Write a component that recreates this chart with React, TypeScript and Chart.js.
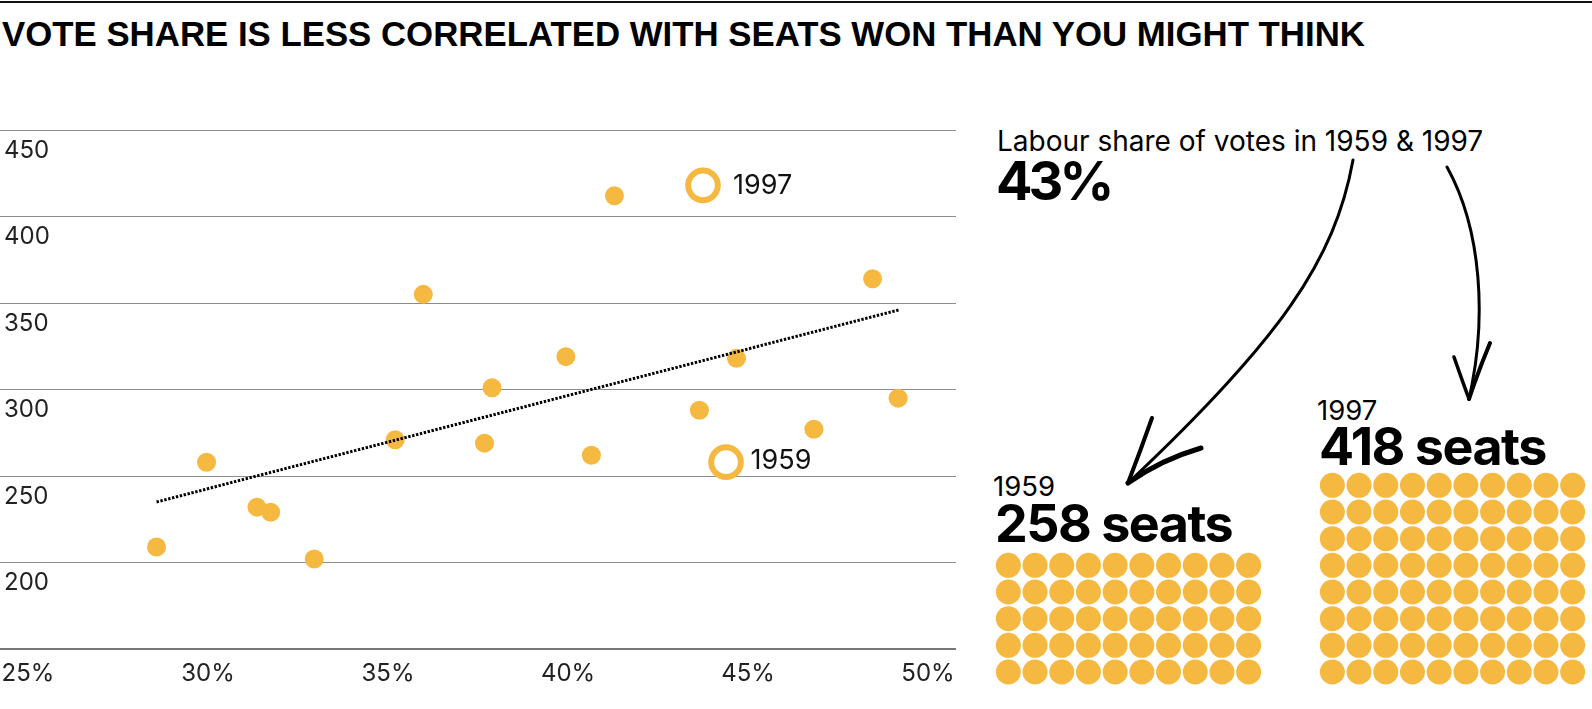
import React, { useEffect, useRef } from "react";
import { Chart, registerables } from "chart.js";
Chart.register(...registerables);

// ---- Data ----
const voteShare = [28.57, 29.96, 31.36, 31.74, 32.95, 35.2, 35.98, 37.68, 37.89, 39.94, 40.65, 41.29, 43.65, 44.68, 46.83, 48.46, 49.17];
const seatsWon = [209, 258, 232, 229, 202, 271, 355, 269, 301, 319, 262, 412, 288, 318, 277, 364, 295];
const highlightYears = ["1997", "1959"];
const highlightShare = [43.75, 44.39];
const highlightSeats = [418, 258];
const trendShare = [28.57, 49.19];
const trendSeats = [235, 346];
const xTicks = [25, 30, 35, 40, 45, 50];
const yTicks = [150, 200, 250, 300, 350, 400, 450];
const waffleYears = ["1959", "1997"];
const waffleSeats = [258, 418];
const seatsPerDot = 5;
const dotsPerRow = 10;
const headlineLabel = "Labour share of votes in 1959 & 1997";
const headlineShare = "43%";
const title = "VOTE SHARE IS LESS CORRELATED WITH SEATS WON THAN YOU MIGHT THINK";

const GOLD = "#F5B942";
const FONT = "Inter, 'Noto Sans', sans-serif";
const TITLE_FONT = "'Liberation Sans', Arial, sans-serif";

// annotation label offsets (style, px)
const ANNOT_DX = [30, 24.5];
const ANNOT_DY = [0.9, -1.5];

function ScatterChart() {
  const ref = useRef<HTMLCanvasElement>(null);
  useEffect(() => {
    if (!ref.current) return;
    const labelPlugin = {
      id: "customLabels",
      afterDraw(chart: any) {
        const { ctx } = chart;
        const x = chart.scales.x;
        const y = chart.scales.y;
        ctx.save();
        ctx.font = `24px ${FONT}`;
        ctx.fillStyle = "#222";
        ctx.textBaseline = "middle";
        ctx.textAlign = "left";
        y.ticks.forEach((t: any) => {
          if (t.value === yTicks[0]) return;
          ctx.fillText(String(t.value), 4, y.getPixelForValue(t.value) + 20.5);
        });
        ctx.textAlign = "center";
        x.ticks.forEach((t: any) => {
          ctx.fillText(t.value + "%", x.getPixelForValue(t.value), y.bottom + 25);
        });
        ctx.font = `27px ${FONT}`;
        ctx.fillStyle = "#111";
        ctx.textAlign = "left";
        highlightYears.forEach((yr, i) => {
          ctx.fillText(yr, x.getPixelForValue(highlightShare[i]) + ANNOT_DX[i], y.getPixelForValue(highlightSeats[i]) + ANNOT_DY[i]);
        });
        ctx.restore();
      },
    };
    const chart = new Chart(ref.current, {
      type: "scatter",
      data: {
        datasets: [
          {
            type: "line",
            data: trendShare.map((v, i) => ({ x: v, y: trendSeats[i] })),
            borderColor: "#000",
            borderWidth: 3,
            borderDash: [2.4, 1.6],
            pointRadius: 0,
            fill: false,
            tension: 0,
          } as any,
          {
            data: highlightShare.map((v, i) => ({ x: v, y: highlightSeats[i] })),
            pointRadius: 14.8,
            borderWidth: 6,
            borderColor: GOLD,
            backgroundColor: "#fff",
          },
          {
            data: voteShare.map((v, i) => ({ x: v, y: seatsWon[i] })),
            pointRadius: 9.5,
            borderWidth: 0,
            backgroundColor: GOLD,
          },
        ],
      },
      options: {
        animation: false,
        responsive: false,
        maintainAspectRatio: false,
        events: [],
        layout: { autoPadding: false, padding: { top: 130, bottom: 60, left: 0, right: 4 } },
        plugins: { legend: { display: false }, tooltip: { enabled: false } },
        scales: {
          x: {
            type: "linear",
            min: 24.2222,
            max: 50.7778,
            afterBuildTicks: (s: any) => {
              s.ticks = xTicks.map((v) => ({ value: v }));
            },
            afterFit: (s: any) => {
              s.height = 0;
            },
            ticks: { display: false },
            grid: { display: false },
            border: { display: false },
          },
          y: {
            type: "linear",
            min: yTicks[0],
            max: yTicks[yTicks.length - 1],
            afterBuildTicks: (s: any) => {
              s.ticks = yTicks.map((v) => ({ value: v }));
            },
            afterFit: (s: any) => {
              s.width = 0;
            },
            ticks: { display: false },
            grid: {
              drawTicks: false,
              color: (c: any) => (c.tick && c.tick.value === yTicks[0] ? "#777" : "#8c8c8c"),
              lineWidth: (c: any) => (c.tick && c.tick.value === yTicks[0] ? 2 : 1),
            },
            border: { display: false },
          },
        },
      } as any,
      plugins: [labelPlugin],
    });
    return () => chart.destroy();
  }, []);
  return <canvas ref={ref} width={960} height={709} style={{ position: "absolute", left: 0, top: 0 }} />;
}

const CELL = 26.7;

function Waffle({ seats, left, top, clipBottom }: { seats: number; left: number; top: number; clipBottom: number }) {
  const ref = useRef<HTMLCanvasElement>(null);
  const dots = Math.round(seats / seatsPerDot);
  const rows = Math.ceil(dots / dotsPerRow);
  useEffect(() => {
    if (!ref.current) return;
    const pts = Array.from({ length: dots }, (_, i) => ({ x: i % dotsPerRow, y: Math.floor(i / dotsPerRow) }));
    const chart = new Chart(ref.current, {
      type: "scatter",
      data: {
        datasets: [{ data: pts, pointRadius: 12.5, borderWidth: 0, backgroundColor: GOLD }],
      },
      options: {
        animation: false,
        responsive: false,
        maintainAspectRatio: false,
        events: [],
        layout: { autoPadding: false, padding: 0 },
        plugins: { legend: { display: false }, tooltip: { enabled: false } },
        scales: {
          x: { type: "linear", display: false, min: -0.5, max: dotsPerRow - 0.5 },
          y: { type: "linear", display: false, min: -0.5, max: rows - 0.5, reverse: true },
        },
      } as any,
    });
    return () => chart.destroy();
  }, [seats]);
  return (
    <div style={{ position: "absolute", left, top, width: dotsPerRow * CELL, height: clipBottom - top, overflow: "hidden" }}>
      <canvas ref={ref} width={Math.round(dotsPerRow * CELL)} height={Math.round(rows * CELL)} style={{ display: "block" }} />
    </div>
  );
}

function Text({ left, top, size, weight, children, spacing = 0, family = FONT }: any) {
  return (
    <div
      style={{
        position: "absolute",
        left,
        top,
        fontFamily: family,
        fontSize: size,
        fontWeight: weight,
        lineHeight: 1,
        letterSpacing: spacing,
        whiteSpace: "nowrap",
        color: "#000",
      }}
    >
      {children}
    </div>
  );
}

export default function App() {
  return (
    <div style={{ position: "fixed", left: 0, top: 0, width: 1592, height: 709, background: "#fff", overflow: "hidden" }}>
      <div style={{ position: "absolute", left: 0, top: 1, width: 1592, height: 2, background: "#111" }} />
      <Text left={2} top={16.5} size={34.8} weight={700} family={TITLE_FONT}>
        {title}
      </Text>
      <ScatterChart />
      <Text left={997} top={126.5} size={28} weight={400}>
        {headlineLabel}
      </Text>
      <Text left={996} top={154} size={54} weight={700} spacing={-4}>
        {headlineShare}
      </Text>
      <Text left={993} top={472.5} size={27.5} weight={400}>
        {waffleYears[0]}
      </Text>
      <Text left={995} top={498} size={52} weight={700} spacing={-1.5}>
        {waffleSeats[0]} seats
      </Text>
      <Text left={1317} top={397} size={27.5} weight={400}>
        {waffleYears[1]}
      </Text>
      <Text left={1319} top={421} size={52} weight={700} spacing={-1.5}>
        {waffleSeats[1]} seats
      </Text>
      <Waffle seats={waffleSeats[0]} left={994.6} top={551.7} clipBottom={685} />
      <Waffle seats={waffleSeats[1]} left={1318.6} top={471.6} clipBottom={685} />
      <svg width={1592} height={709} style={{ position: "absolute", left: 0, top: 0, pointerEvents: "none" }}>
        <g fill="none" stroke="#000" strokeLinecap="round" strokeLinejoin="round">
          <path d="M1353 160 C 1335 260, 1280 340, 1128 483" strokeWidth={3} />
          <path d="M1152 418 Q 1140 452, 1128 483" strokeWidth={4} />
          <path d="M1201 448 Q 1160 460, 1128 483" strokeWidth={5} />
          <path d="M1447 167 C 1482 230, 1487 320, 1469 399" strokeWidth={3} />
          <path d="M1454 357 Q 1462 380, 1469 399" strokeWidth={3.5} />
          <path d="M1490 343 Q 1478 372, 1469 399" strokeWidth={4} />
        </g>
      </svg>
    </div>
  );
}
